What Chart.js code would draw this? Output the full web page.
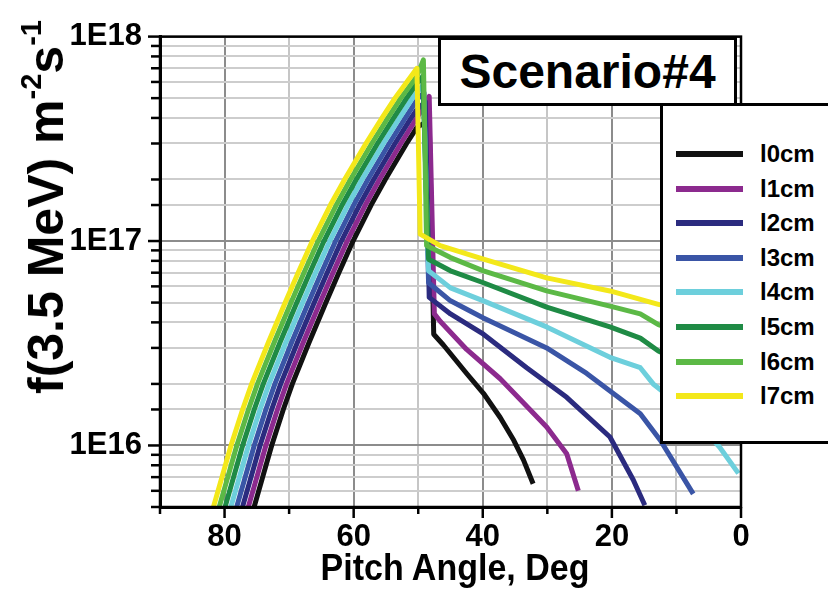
<!DOCTYPE html>
<html>
<head>
<meta charset="utf-8">
<script src="https://cdn.jsdelivr.net/npm/chart.js@4.4.0/dist/chart.umd.min.js"></script>
<style>
    html, body { margin: 0; padding: 0; background: #fff; overflow: hidden; }
    #wrap { position: relative; width: 828px; height: 590px; overflow: hidden;
            font-family: "Liberation Sans", Arial, sans-serif; font-weight: bold; color: #000; }
    #chart { position: absolute; left: 0; top: 0; }
    .ytitle { position: absolute; left: 46px; top: 207px; white-space: nowrap; font-size: 50px;
              transform: translate(-50%, -50%) rotate(-90deg); }
    .ytitle .sup { font-size: 29px; position: relative; top: -22px; }
    .xtitle { position: absolute; left: 455px; top: 568px; white-space: nowrap; font-size: 34px;
              transform: translate(-50%, -50%) scaleY(1.08); }
    .titlebox { position: absolute; left: 438px; top: 37px; width: 293px; height: 63px;
                border: 3px solid #000; background: #fff; font-size: 48px; text-align: center; line-height: 63px; }
    .legend { position: absolute; left: 660px; top: 103px; width: 200px; height: 335px;
              border: 3px solid #000; background: #fff; }
    .legend .item { position: absolute; left: 0; height: 30px; width: 200px; }
    .legend .swatch { position: absolute; left: 13px; top: 12px; width: 67px; height: 6px; }
    .legend .name { position: absolute; left: 97px; top: 0; font-size: 24px; line-height: 30px; }
</style>
</head>
<body>
<div id="wrap">
    <canvas id="chart" width="828" height="590"></canvas>
    <div class="ytitle">f(3.5 MeV) m<span class="sup">-2</span>s<span class="sup">-1</span></div>
    <div class="xtitle">Pitch Angle, Deg</div>
    <div class="titlebox">Scenario#4</div>
    <div class="legend" id="legend"></div>
</div>
<script>
// series names and colours
const seriesLabels = ['l0cm', 'l1cm', 'l2cm', 'l3cm', 'l4cm', 'l5cm', 'l6cm', 'l7cm'];
const seriesColors = ['#111111', '#8c2a8e', '#2b2b7f', '#3a55a6', '#6dcfdc', '#1f8b45', '#5cb946', '#f3e81a'];

// pitch angle (deg) and flux (m^-2 s^-1)
const angleL0 = [76.3, 74.1, 72.7, 70.9, 69.5, 66.9, 64.3, 62.3, 60.1, 57.3, 55.1, 51.8, 50.2, 48.3, 47.6, 46.1, 42.5, 39.9, 37.3, 35.2, 33.7, 32.2];
const fluxL0  = [4e15, 7e15, 1e16, 1.5e16, 2e16, 3.2e16, 5e16, 7e16, 1e17, 1.5e17, 2e17, 3e17, 3.6e17, 3.9e17, 3.5e16, 3.1e16, 2.25e16, 1.8e16, 1.37e16, 1.06e16, 8.5e15, 6.5e15];

const angleL1 = [77.2, 75.0, 73.6, 71.8, 70.4, 67.8, 65.2, 63.2, 61.0, 58.2, 56.0, 52.7, 50.2, 48.3, 47.5, 46.6, 42.5, 37.3, 34.2, 30.1, 27.0, 25.2];
const fluxL1  = [4e15, 7e15, 1e16, 1.5e16, 2e16, 3.2e16, 5e16, 7e16, 1e17, 1.5e17, 2e17, 3e17, 4e17, 5.1e17, 4.4e16, 4.05e16, 2.95e16, 2.12e16, 1.68e16, 1.23e16, 9.1e15, 6.0e15];

const angleL2 = [78.1, 75.9, 74.5, 72.7, 71.3, 68.7, 66.1, 64.1, 61.9, 59.1, 56.9, 53.6, 51.1, 50.2, 48.9, 48.3, 45.0, 39.9, 33.2, 27.0, 20.3, 16.7, 14.9];
const fluxL2  = [4e15, 7e15, 1e16, 1.5e16, 2e16, 3.2e16, 5e16, 7e16, 1e17, 1.5e17, 2e17, 3e17, 4e17, 4.4e17, 4.8e17, 5.3e16, 4.4e16, 3.5e16, 2.4e16, 1.72e16, 1.1e16, 6.8e15, 5.1e15];

const angleL3 = [79.0, 76.8, 75.4, 73.6, 72.2, 69.6, 67.0, 65.0, 62.8, 60.0, 57.8, 54.5, 52.0, 50.0, 49.1, 48.4, 45.0, 39.9, 30.1, 23.9, 15.6, 12.5, 7.4];
const fluxL3  = [4e15, 7e15, 1e16, 1.5e16, 2e16, 3.2e16, 5e16, 7e16, 1e17, 1.5e17, 2e17, 3e17, 4e17, 5e17, 5.3e17, 6.25e16, 5.1e16, 4.2e16, 3.0e16, 2.25e16, 1.43e16, 1.06e16, 5.8e15];

const angleL4 = [79.9, 77.7, 76.3, 74.5, 73.1, 70.5, 67.9, 65.9, 63.7, 60.9, 58.7, 55.4, 52.9, 50.9, 50.2, 49.2, 48.4, 45.0, 39.9, 30.1, 20.3, 15.6, 13.6, 8.0, 3.3, 0.4];
const fluxL4  = [4e15, 7e15, 1e16, 1.5e16, 2e16, 3.2e16, 5e16, 7e16, 1e17, 1.5e17, 2e17, 3e17, 4e17, 5e17, 5.35e17, 5.8e17, 7.15e16, 5.9e16, 5.1e16, 3.8e16, 2.7e16, 2.4e16, 2.0e16, 1.45e16, 9.8e15, 7.3e15];

const angleL5 = [80.8, 78.6, 77.2, 75.4, 74.0, 71.4, 68.8, 66.8, 64.6, 61.8, 59.6, 56.3, 53.8, 51.8, 50.2, 49.3, 48.4, 45.0, 39.9, 30.1, 20.3, 15.6, 12.8, 6.0, 0.0];
const fluxL5  = [4e15, 7e15, 1e16, 1.5e16, 2e16, 3.2e16, 5e16, 7e16, 1e17, 1.5e17, 2e17, 3e17, 4e17, 5e17, 5.9e17, 6.4e17, 8.15e16, 7.15e16, 6.25e16, 4.75e16, 3.8e16, 3.35e16, 2.9e16, 2.3e16, 1.9e16];

const angleL6 = [81.7, 79.5, 78.1, 76.3, 74.9, 72.3, 69.7, 67.7, 65.5, 62.7, 60.5, 57.2, 54.7, 52.7, 50.2, 49.2, 48.7, 45.0, 39.9, 30.1, 20.3, 15.6, 12.8, 6.0, 0.0];
const fluxL6  = [4e15, 7e15, 1e16, 1.5e16, 2e16, 3.2e16, 5e16, 7e16, 1e17, 1.5e17, 2e17, 3e17, 4e17, 5e17, 6.4e17, 7.7e17, 9.5e16, 8.3e16, 7.15e16, 5.7e16, 4.8e16, 4.4e16, 3.9e16, 3.3e16, 2.9e16];

const angleL7 = [82.6, 80.4, 79.0, 77.2, 75.8, 73.2, 70.6, 68.6, 66.4, 63.6, 61.4, 58.1, 55.6, 53.6, 50.2, 49.7, 46.6, 39.9, 30.1, 20.3, 12.8, 6.0, 0.0];
const fluxL7  = [4e15, 7e15, 1e16, 1.5e16, 2e16, 3.2e16, 5e16, 7e16, 1e17, 1.5e17, 2e17, 3e17, 4e17, 5e17, 7.0e17, 1.08e17, 9.5e16, 8.15e16, 6.6e16, 5.7e16, 4.9e16, 4.4e16, 4.0e16];

const seriesAngles = [angleL0, angleL1, angleL2, angleL3, angleL4, angleL5, angleL6, angleL7];
const seriesFlux = [fluxL0, fluxL1, fluxL2, fluxL3, fluxL4, fluxL5, fluxL6, fluxL7];

const FONT = '"Liberation Sans", Arial, sans-serif';

function isDecade(v) {
    const e = Math.log10(v);
    return Math.abs(e - Math.round(e)) < 1e-6;
}

// box border plus major/minor tick marks
const frameTicks = {
    id: 'frameTicks',
    afterDraw(chart) {
        const ctx = chart.ctx;
        const a = chart.chartArea;
        const sx = chart.scales.x;
        const sy = chart.scales.y;
        ctx.save();
        ctx.strokeStyle = '#000';
        ctx.lineWidth = 2.5;
        ctx.strokeRect(a.left, a.top, a.right - a.left, a.bottom - a.top);
        sx.ticks.forEach(function(t) {
            const px = sx.getPixelForValue(t.value);
            const len = t.value % 20 === 0 ? 11 : 7;
            ctx.beginPath();
            ctx.moveTo(px, a.bottom);
            ctx.lineTo(px, a.bottom + len);
            ctx.stroke();
        });
        sy.ticks.forEach(function(t) {
            const py = sy.getPixelForValue(t.value);
            const len = isDecade(t.value) ? 12 : 9;
            ctx.beginPath();
            ctx.moveTo(a.left, py);
            ctx.lineTo(a.left - len, py);
            ctx.stroke();
        });
        ctx.restore();
    }
};

document.addEventListener('DOMContentLoaded', function() {
    const datasets = seriesLabels.map(function(label, i) {
        return {
            label: label,
            data: seriesAngles[i].map(function(a, j) { return { x: a, y: seriesFlux[i][j] }; }),
            borderColor: seriesColors[i],
            backgroundColor: seriesColors[i],
            borderWidth: 5,
            borderJoinStyle: 'round',
            fill: false,
            pointRadius: 0,
            tension: 0,
            order: seriesLabels.length - 1 - i
        };
    });

    const ctx = document.getElementById('chart').getContext('2d');
    new Chart(ctx, {
        type: 'line',
        data: { datasets: datasets },
        options: {
            responsive: false,
            animation: false,
            layout: { padding: { top: 35, right: 87, left: 0, bottom: 0 } },
            plugins: {
                legend: { display: false },
                tooltip: { enabled: false }
            },
            scales: {
                x: {
                    type: 'linear',
                    min: 0,
                    max: 90,
                    reverse: true,
                    afterFit: function(s) { s.height = 83; },
                    ticks: {
                        stepSize: 10,
                        autoSkip: false,
                        maxRotation: 0,
                        padding: 12,
                        color: '#000',
                        font: { family: FONT, size: 31, weight: 'bold' },
                        callback: function(v) { return v % 20 === 0 ? String(v) : ''; }
                    },
                    grid: {
                        drawTicks: false,
                        lineWidth: 2,
                        color: function(c) {
                            return c.tick && c.tick.value % 20 === 0 ? '#8c8c8c' : '#c6c6c6';
                        }
                    },
                    border: { display: true, color: '#000', width: 3 }
                },
                y: {
                    type: 'logarithmic',
                    min: 5e15,
                    max: 1e18,
                    afterFit: function(s) { s.width = 160; },
                    ticks: {
                        autoSkip: false,
                        padding: 18,
                        color: '#000',
                        font: { family: FONT, size: 31, weight: 'bold' },
                        callback: function(v) {
                            return isDecade(v) ? '1E' + Math.round(Math.log10(v)) : '';
                        }
                    },
                    grid: {
                        drawTicks: false,
                        lineWidth: 2,
                        color: function(c) {
                            return c.tick && isDecade(c.tick.value) ? '#8c8c8c' : '#cdcdcd';
                        }
                    },
                    border: { display: true, color: '#000', width: 3 }
                }
            }
        },
        plugins: [frameTicks]
    });

    // legend box, built from the series names and colours
    const legend = document.getElementById('legend');
    seriesLabels.forEach(function(label, i) {
        const item = document.createElement('div');
        item.className = 'item';
        item.style.top = (33 + i * 34.6) + 'px';
        const sw = document.createElement('div');
        sw.className = 'swatch';
        sw.style.background = seriesColors[i];
        const nm = document.createElement('div');
        nm.className = 'name';
        nm.textContent = label;
        item.appendChild(sw);
        item.appendChild(nm);
        legend.appendChild(item);
    });
});
</script>
</body>
</html>
